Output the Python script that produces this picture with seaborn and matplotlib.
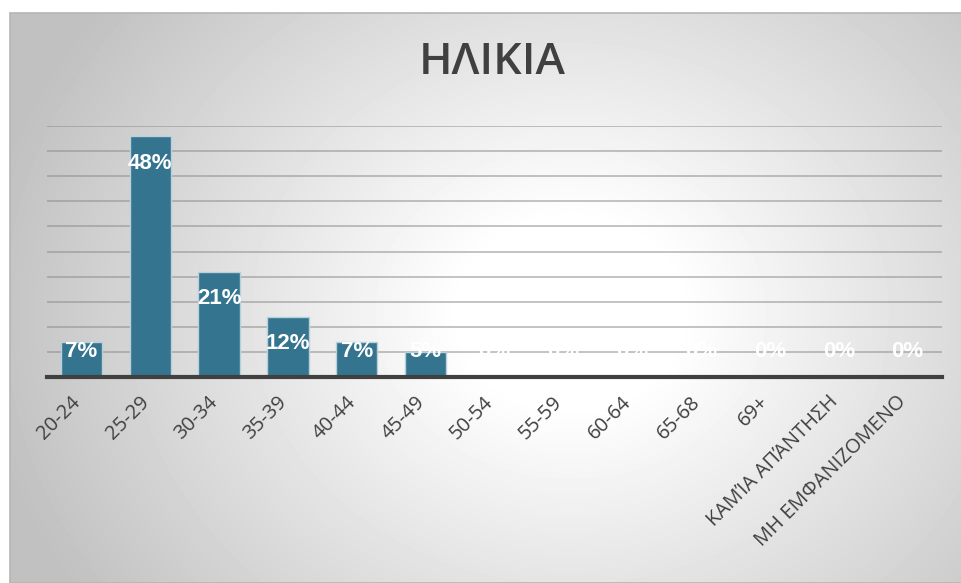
import numpy as np
import matplotlib
matplotlib.use('Agg')
import matplotlib.pyplot as plt
from matplotlib.transforms import ScaledTranslation
import seaborn as sns

categories = ["20-24", "25-29", "30-34", "35-39", "40-44", "45-49", "50-54",
              "55-59", "60-64", "65-68", "69+", "ΚΑΜΊΑ ΑΠΆΝΤΗΣΗ", "ΜΗ ΕΜΦΑΝΙΖΟΜΕΝΟ"]
percentages = [7, 48, 21, 12, 7, 5, 0, 0, 0, 0, 0, 0, 0]
grid_ticks = [0, 5, 10, 15, 20, 25, 30, 35, 40, 45, 50]

sns.set_theme(style="white")
plt.rcParams['font.family'] = ['Liberation Sans', 'DejaVu Sans']

W, H = 962, 583
fig = plt.figure(figsize=(W / 100, H / 100), dpi=100)
fig.patch.set_facecolor('white')

# radial grey-to-white background of the chart box
bx0, by0 = 10, 13
bg = fig.add_axes([bx0 / W, 0, (W - bx0) / W, (H - by0) / H])
xx, yy = np.meshgrid(np.arange(W - bx0), np.arange(H - by0))
d = np.hypot((xx - 560) / 1.0, (yy - 300) / 0.85)
shade = 255 - 62 * np.clip((d - 110) / 480, 0, 1)
bg.imshow(shade, cmap='gray', vmin=0, vmax=255, aspect='auto', interpolation='bilinear')
bg.set_axis_off()
fig.add_artist(plt.Rectangle((bx0 / W, 0), (W - bx0) / W, (H - by0) / H, transform=fig.transFigure,
                             fill=False, edgecolor='#b5b5b5', lw=1.2))

ax = fig.add_axes([47 / W, (H - 377) / H, 895 / W, 251 / H])
ax.patch.set_alpha(0)
sns.barplot(x=categories, y=percentages, ax=ax, color='#34748f', width=0.6,
            edgecolor='#b9d0dc', linewidth=1, saturation=1)
ax.set_ylim(0, 50)
ax.set_yticks(grid_ticks)
ax.set_yticklabels([])
ax.tick_params(axis='y', length=0)
ax.yaxis.grid(True, color='#8a8a8a', alpha=0.55, lw=1.3)
ax.set_axisbelow(True)
for s in ['top', 'right', 'left']:
    ax.spines[s].set_visible(False)
ax.spines['bottom'].set_color('#404040')
ax.spines['bottom'].set_linewidth(3)
ax.set_xlim(-0.5, len(categories) - 0.5)
ax.set_xlabel('')
ax.tick_params(axis='x', length=0, pad=16)
ax.set_xticks(range(len(categories)))
ax.set_xticklabels(categories, rotation=45, ha='right', va='center', rotation_mode='anchor',
                   fontsize=14.5, color='#404040', family=['Open Sans', 'DejaVu Sans'])
shift = ScaledTranslation(-4 / 100, 0, fig.dpi_scale_trans)
for lbl in ax.get_xticklabels():
    lbl.set_transform(lbl.get_transform() + shift)

for i, v in enumerate(percentages):
    ax.text(i, max(v - 5.4, 5.0), f"{v}%", ha='center', va='center', color='white',
            fontsize=16, fontweight='bold')

fig.text(492 / W, 1 - 62 / H, "ΗΛΙΚΙΑ", ha='center', va='center', fontsize=32,
         fontweight='semibold', color='#404040', family=['Open Sans', 'DejaVu Sans'])

fig.savefig('out.png', dpi=100)
